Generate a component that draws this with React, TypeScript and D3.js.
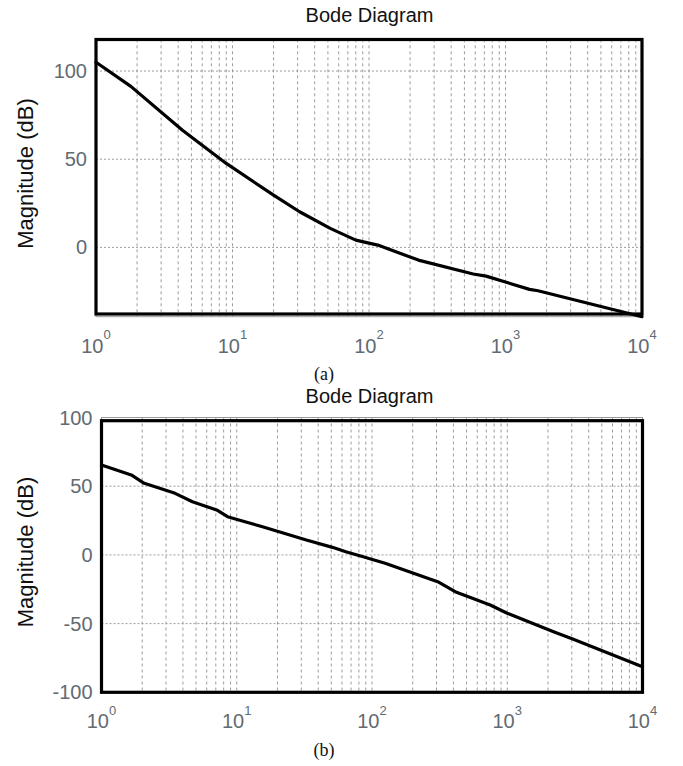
import React from "react";
import * as d3 from "d3";

// ---- Data ----
const FREQ_A = [1, 1.8, 4.3, 9, 20, 31, 52, 80, 116, 230, 580, 720, 1500, 1730, 10000];
const MAG_A = [105, 91.3, 66.4, 47.6, 29.6, 20.2, 10.8, 4.1, 1.3, -7.2, -15.1, -16.3, -23.8, -24.6, -39.3];

const FREQ_B = [1, 1.66, 2.07, 3.5, 4.7, 7.1, 8.55, 15.5, 32.7, 51, 64, 86, 125, 306, 412, 748, 1000, 2200, 3080, 10000];
const MAG_B = [65.4, 58.2, 52.1, 44.8, 38.7, 32.7, 27.8, 20.5, 10.8, 5.5, 2.3, -1.3, -6.1, -19.5, -26.8, -36.5, -42.5, -56, -61.4, -81.4];

const X_DECADES = [0, 1, 2, 3, 4];
const Y_TICKS_A = [0, 50, 100];
const Y_TICKS_B = [-100, -50, 0, 50, 100];
const Y_DOMAIN_A: [number, number] = [-39.3, 118];
const Y_DOMAIN_B: [number, number] = [-100, 100];

const TITLE = "Bode Diagram";
const Y_LABEL = "Magnitude (dB)";

const SANS = "'Liberation Sans', Arial, sans-serif";
const SERIF = "'Liberation Serif', 'Times New Roman', serif";

type PanelProps = {
  freq: number[];
  mag: number[];
  yTicks: number[];
  yDomain: [number, number];
  left: number;
  right: number;
  top: number;
  bottom: number;
  frameTop: number;
  frameBottom: number;
  titleY: number;
  labelY: number;
  caption: string;
  captionY: number;
};

function Panel(p: PanelProps) {
  const x = d3.scaleLog().domain([1, 1e4]).range([p.left, p.right]);
  const y = d3.scaleLinear().domain(p.yDomain).range([p.bottom, p.top]);

  const minor: number[] = [];
  for (let d = 0; d < 4; d++) {
    for (let m = 2; m <= 10; m++) {
      const v = m * Math.pow(10, d);
      if (v < 1e4) minor.push(v);
    }
  }

  const pts = p.freq.map((f, i) => [f, p.mag[i]] as [number, number]);
  const line = d3
    .line<[number, number]>()
    .x((d) => x(d[0]))
    .y((d) => y(d[1]));

  const plotMid = (p.top + p.bottom) / 2;

  return (
    <g>
      <text
        x={369.5}
        y={p.titleY}
        textAnchor="middle"
        fontFamily={SANS}
        fontSize={20}
        fill="#111"
      >
        {TITLE}
      </text>

      {/* thin gray axes frame */}
      <rect
        x={p.left}
        y={p.top}
        width={p.right - p.left}
        height={p.bottom - p.top}
        fill="none"
        stroke="#9a9a9a"
        strokeWidth={1}
      />

      {/* vertical grid */}
      {minor.map((v, i) => (
        <line
          key={"v" + i}
          x1={x(v)}
          x2={x(v)}
          y1={p.top}
          y2={p.bottom}
          stroke="#9c9c9c"
          strokeWidth={1}
          strokeDasharray="3,3"
        />
      ))}

      {/* horizontal grid */}
      {p.yTicks
        .filter((t) => y(t) > p.top + 2 && y(t) < p.bottom - 2)
        .map((t) => (
          <line
            key={"h" + t}
            x1={p.left}
            x2={p.right}
            y1={y(t)}
            y2={y(t)}
            stroke="#9c9c9c"
            strokeWidth={1}
            strokeDasharray="2,2"
          />
        ))}

      {/* curve */}
      <path
        d={line(pts) || ""}
        fill="none"
        stroke="#000"
        strokeWidth={3.2}
        strokeLinejoin="round"
        strokeLinecap="round"
      />

      {/* thick black frame */}
      <rect
        x={p.left}
        y={p.frameTop}
        width={p.right - p.left}
        height={p.frameBottom - p.frameTop}
        fill="none"
        stroke="#000"
        strokeWidth={3.2}
      />

      {/* y tick labels */}
      {p.yTicks.map((t) => (
        <text
          key={"yt" + t}
          x={p.left - 9}
          y={y(t)}
          dy="0.35em"
          textAnchor="end"
          fontFamily={SANS}
          fontSize={20}
          fill="#626a72"
        >
          {t}
        </text>
      ))}

      {/* x tick labels */}
      {X_DECADES.map((e) => (
        <text
          key={"xt" + e}
          x={x(Math.pow(10, e))}
          y={p.bottom + 36}
          textAnchor="middle"
          fontFamily={SANS}
          fontSize={20}
          fill="#626a72"
        >
          <tspan>10</tspan>
          <tspan fontSize={13} dy={-13.5}>
            {e}
          </tspan>
        </text>
      ))}

      {/* y label */}
      <text
        transform={`translate(33,${p.labelY}) rotate(-90)`}
        textAnchor="middle"
        fontFamily={SANS}
        fontSize={22}
        fill="#111"
      >
        {Y_LABEL}
      </text>

      {/* caption */}
      <text
        x={324}
        y={p.captionY}
        textAnchor="middle"
        fontFamily={SERIF}
        fontSize={18}
        fill="#111"
      >
        {p.caption}
      </text>
    </g>
  );
}

export default function App() {
  return (
    <svg
      width={683}
      height={766}
      style={{ position: "absolute", left: 0, top: 0, background: "#fff" }}
    >
      <rect x={0} y={0} width={683} height={766} fill="#fff" />
      <Panel
        freq={FREQ_A}
        mag={MAG_A}
        yTicks={Y_TICKS_A}
        yDomain={Y_DOMAIN_A}
        left={96}
        right={642}
        top={39.3}
        bottom={316.7}
        frameTop={39.5}
        frameBottom={314}
        titleY={22}
        labelY={173.5}
        caption="(a)"
        captionY={380}
      />
      <Panel
        freq={FREQ_B}
        mag={MAG_B}
        yTicks={Y_TICKS_B}
        yDomain={Y_DOMAIN_B}
        left={101.5}
        right={642.5}
        top={417.5}
        bottom={692.3}
        frameTop={420.7}
        frameBottom={692.3}
        titleY={403}
        labelY={552}
        caption="(b)"
        captionY={756}
      />
    </svg>
  );
}
